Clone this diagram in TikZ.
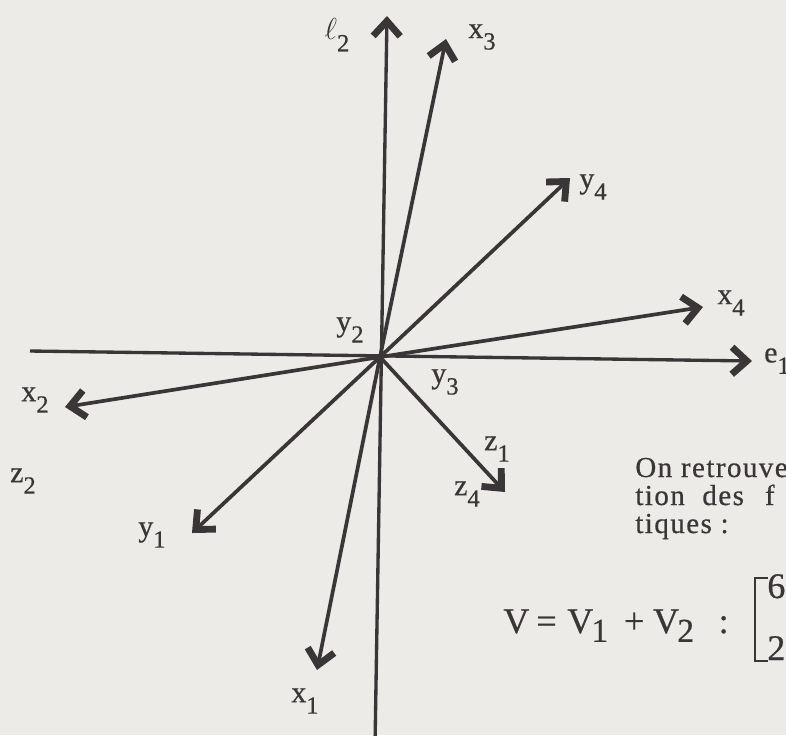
\documentclass[tikz,border=0pt]{standalone}
\usepackage{fontspec}
\setmainfont{Liberation Serif}[FakeBold=0.6]
\newfontfamily\spacedserif{Liberation Serif}[LetterSpace=5, FakeBold=0.6]
\usepackage{xcolor}
\usepackage{tikz}
\usetikzlibrary{positioning, arrows.meta}

\definecolor{paper}{HTML}{EDEBE7}
\definecolor{inkc}{HTML}{3A3537}

\newcommand{\bodyfont}{\spacedserif\fontsize{16.5}{16}\selectfont}
\newcommand{\eqfont}{\fontsize{20.5}{24}\selectfont}
\newcommand{\lowsub}[1]{\raisebox{-6.5pt}{\fontsize{14}{16}\selectfont #1}}
\newcommand{\eqsub}[1]{\raisebox{-5pt}{\fontsize{19}{22}\selectfont #1}}

\begin{document}
\begin{tikzpicture}[x=0.02cm, y=-0.02cm,
        axis/.style={draw=inkc, line width=1.9pt, -{Straight Barb[length=3mm, width=5.4mm, line width=3.9pt]}},
        vec/.style={axis, line width=2.1pt},
        lab/.style={text=inkc, font=\fontsize{17}{20}\selectfont, inner sep=0pt},
        txt/.style={text=inkc, font=\bodyfont, inner sep=0pt, anchor=base west},
        eq/.style={text=inkc, font=\eqfont, inner sep=0pt, anchor=base west}
    ]
    \useasboundingbox (0,0) rectangle (786,735);
    \clip (0,0) rectangle (786,735);
    \fill[paper] (0,0) rectangle (786,735);

    % axes
    \coordinate (O) at (380,357);
    \coordinate (west) at (30,351);
    \coordinate (south) at (375,745);
    \coordinate (te1) at (752,361);
    \coordinate (tl2) at (387,16);
    \draw[axis] (west) -- (te1);
    \draw[axis] (south) -- (tl2);

    % vectors
    \coordinate (tx1) at (317,670);
    \coordinate (tx2) at (65,407);
    \coordinate (tx3) at (446,39);
    \coordinate (tx4) at (703,307);
    \coordinate (ty1) at (192,533);
    \coordinate (ty4) at (570,178);
    \coordinate (tz) at (505,492);
    \draw[vec] (O) -- (tx1);
    \draw[vec] (O) -- (tx2);
    \draw[vec] (O) -- (tx3);
    \draw[vec] (O) -- (tx4);
    \draw[vec] (O) -- (ty1);
    \draw[vec] (O) -- (ty4);
    \draw[vec] (O) -- (tz);

    % labels
    \node[lab] (ll2) at (337,35) {$\ell$\lowsub{2}};
    \node[lab] (lx3) at (482,37) {x\lowsub{3}};
    \node[lab] (ly4) at (593,187) {y\lowsub{4}};
    \node[lab] (lx4) at (731,303) {x\lowsub{4}};
    \node[lab] (le1) at (777,361) {e\lowsub{1}};
    \node[lab] (ly2) at (350,330) {y\lowsub{2}};
    \node[lab] (ly3) at (445,382) {y\lowsub{3}};
    \node[lab] (lz1) at (497,449) {z\lowsub{1}};
    \node[lab] (lz4) at (467,494) {z\lowsub{4}};
    \node[lab] (lx2) at (35,400) {x\lowsub{2}};
    \node[lab] (lz2) at (23,481) {z\lowsub{2}};
    \node[lab] (ly1) at (152,535) {y\lowsub{1}};
    \node[lab] (lx1) at (305,701) {x\lowsub{1}};

    % text on the right
    \node[txt] (line1) at (635,477) {On retrouve};
    \node[txt] (line2) at (635,505) {tion\hspace{10pt}des\hspace{12pt}f};
    \node[txt] (line3) at (635,533) {tiques :};

    \node[eq] (vsum) at (503,633) {V\hspace{4pt}=\hspace{6pt}V\kern-1pt\eqsub{1}\hspace{9pt}+\hspace{5pt}V\kern-1pt\eqsub{2}\hspace{14pt}:};
    \draw[draw=inkc, line width=1.4pt] (768,578) -| (755,661) -- (768,661);
    \node[eq] (top6) at (767,598) {6};
    \node[eq] (bot2) at (767,660) {2};
\end{tikzpicture}
\end{document}
